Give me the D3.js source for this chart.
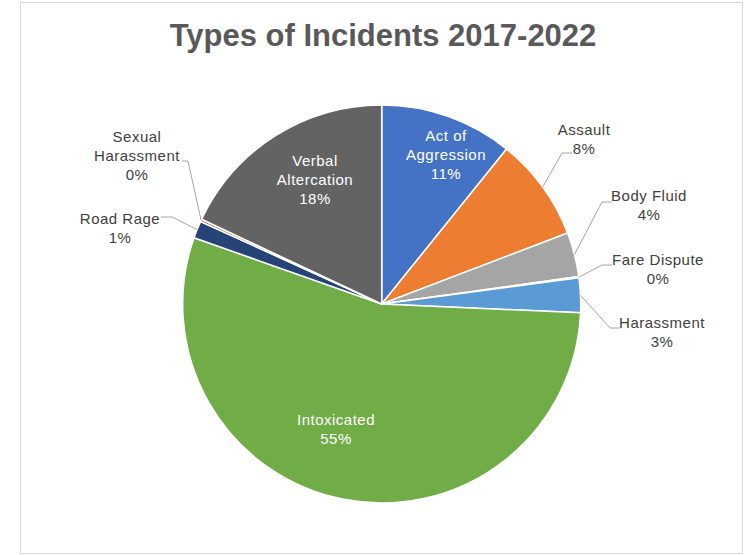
<!DOCTYPE html>
<html><head><meta charset="utf-8">
<script src="https://cdn.jsdelivr.net/npm/d3@7"></script>
<style>body{margin:0;background:#fff}svg{display:block}text{font-family:"Liberation Sans",Arial,sans-serif}</style>
</head><body>
<script>
// ---- data ----
const categories = ["Act of Aggression","Assault","Body Fluid","Fare Dispute","Harassment","Intoxicated","Road Rage","Sexual Harassment","Verbal Altercation"];
const shares = [10.8, 8.4, 3.6, 0.1, 2.8, 54.7, 1.4, 0.2, 18.0];
const labelLines = [["Act of","Aggression"],["Assault"],["Body Fluid"],["Fare Dispute"],["Harassment"],["Intoxicated"],["Road Rage"],["Sexual","Harassment"],["Verbal","Altercation"]];
const titleText = "Types of Incidents 2017-2022";

// ---- layout / style ----
const W = 753, H = 555;
const cx = 381.7, cy = 304, R = 199;
const colors = ["#4472C4","#ED7D31","#A5A5A5","#FFC000","#5B9BD5","#70AD47","#264478","#9E480E","#636363"];
// label block centre (x, first line centre y), inside flag, leader elbow + end
const labelLayout = [
  {x:446, y:136, inside:true},
  {x:584, y:130, elbow:[562,153], end:[572,153]},
  {x:649, y:196, elbow:[602,202], end:[612,202]},
  {x:658, y:260, elbow:[602,265], end:[612,265]},
  {x:662, y:323, elbow:[610,328], end:[620,328]},
  {x:336, y:420, inside:true},
  {x:120, y:219, elbow:[172,217], end:[161,217]},
  {x:137, y:137, elbow:[188,161], end:[182,161]},
  {x:315, y:161, inside:true}
];
const lineH = 19, fs = 15;

const svg = d3.select("body").append("svg").attr("width", W).attr("height", H);
svg.append("rect").attr("x",20.5).attr("y",2.5).attr("width",722).attr("height",551)
  .attr("fill","#fff").attr("stroke","#D9D9D9").attr("stroke-width",1);

svg.append("text").attr("x",383).attr("y",46).attr("text-anchor","middle")
  .attr("font-size",31).attr("font-weight","bold").attr("fill","#595959").text(titleText);

const data = categories.map((c,i)=>({name:c, value:shares[i], i}));
const pie = d3.pie().value(d=>d.value).sort(null);
const arcs = pie(data);
const arc = d3.arc().innerRadius(0).outerRadius(R);
const rimArc = d3.arc().innerRadius(R).outerRadius(R);

const g = svg.append("g").attr("transform",`translate(${cx},${cy})`);
g.selectAll("path.slice").data(arcs).join("path").attr("class","slice")
  .attr("d",arc).attr("fill",d=>colors[d.data.i]).attr("stroke","#fff").attr("stroke-width",1.5)
  .attr("stroke-linejoin","round");

const pct = d3.format(".0f");
const lg = svg.append("g");
arcs.forEach(a=>{
  const i = a.data.i, L = labelLayout[i];
  const lines = labelLines[i].concat([pct(a.data.value)+"%"]);
  if(!L.inside){
    const p = rimArc.centroid(a);
    lg.append("path").attr("d", d3.line()([[p[0]+cx,p[1]+cy], L.elbow, L.end]))
      .attr("fill","none").attr("stroke","#A6A6A6").attr("stroke-width",1);
  }
  const t = lg.append("text").attr("text-anchor","middle").attr("font-size",fs)
    .attr("letter-spacing","0.5px")
    .attr("fill", L.inside ? "#FFFFFF" : "#404040");
  lines.forEach((s,k)=>{
    t.append("tspan").attr("x",L.x).attr("y",L.y + k*lineH + fs*0.35).text(s);
  });
});
</script>
</body></html>
